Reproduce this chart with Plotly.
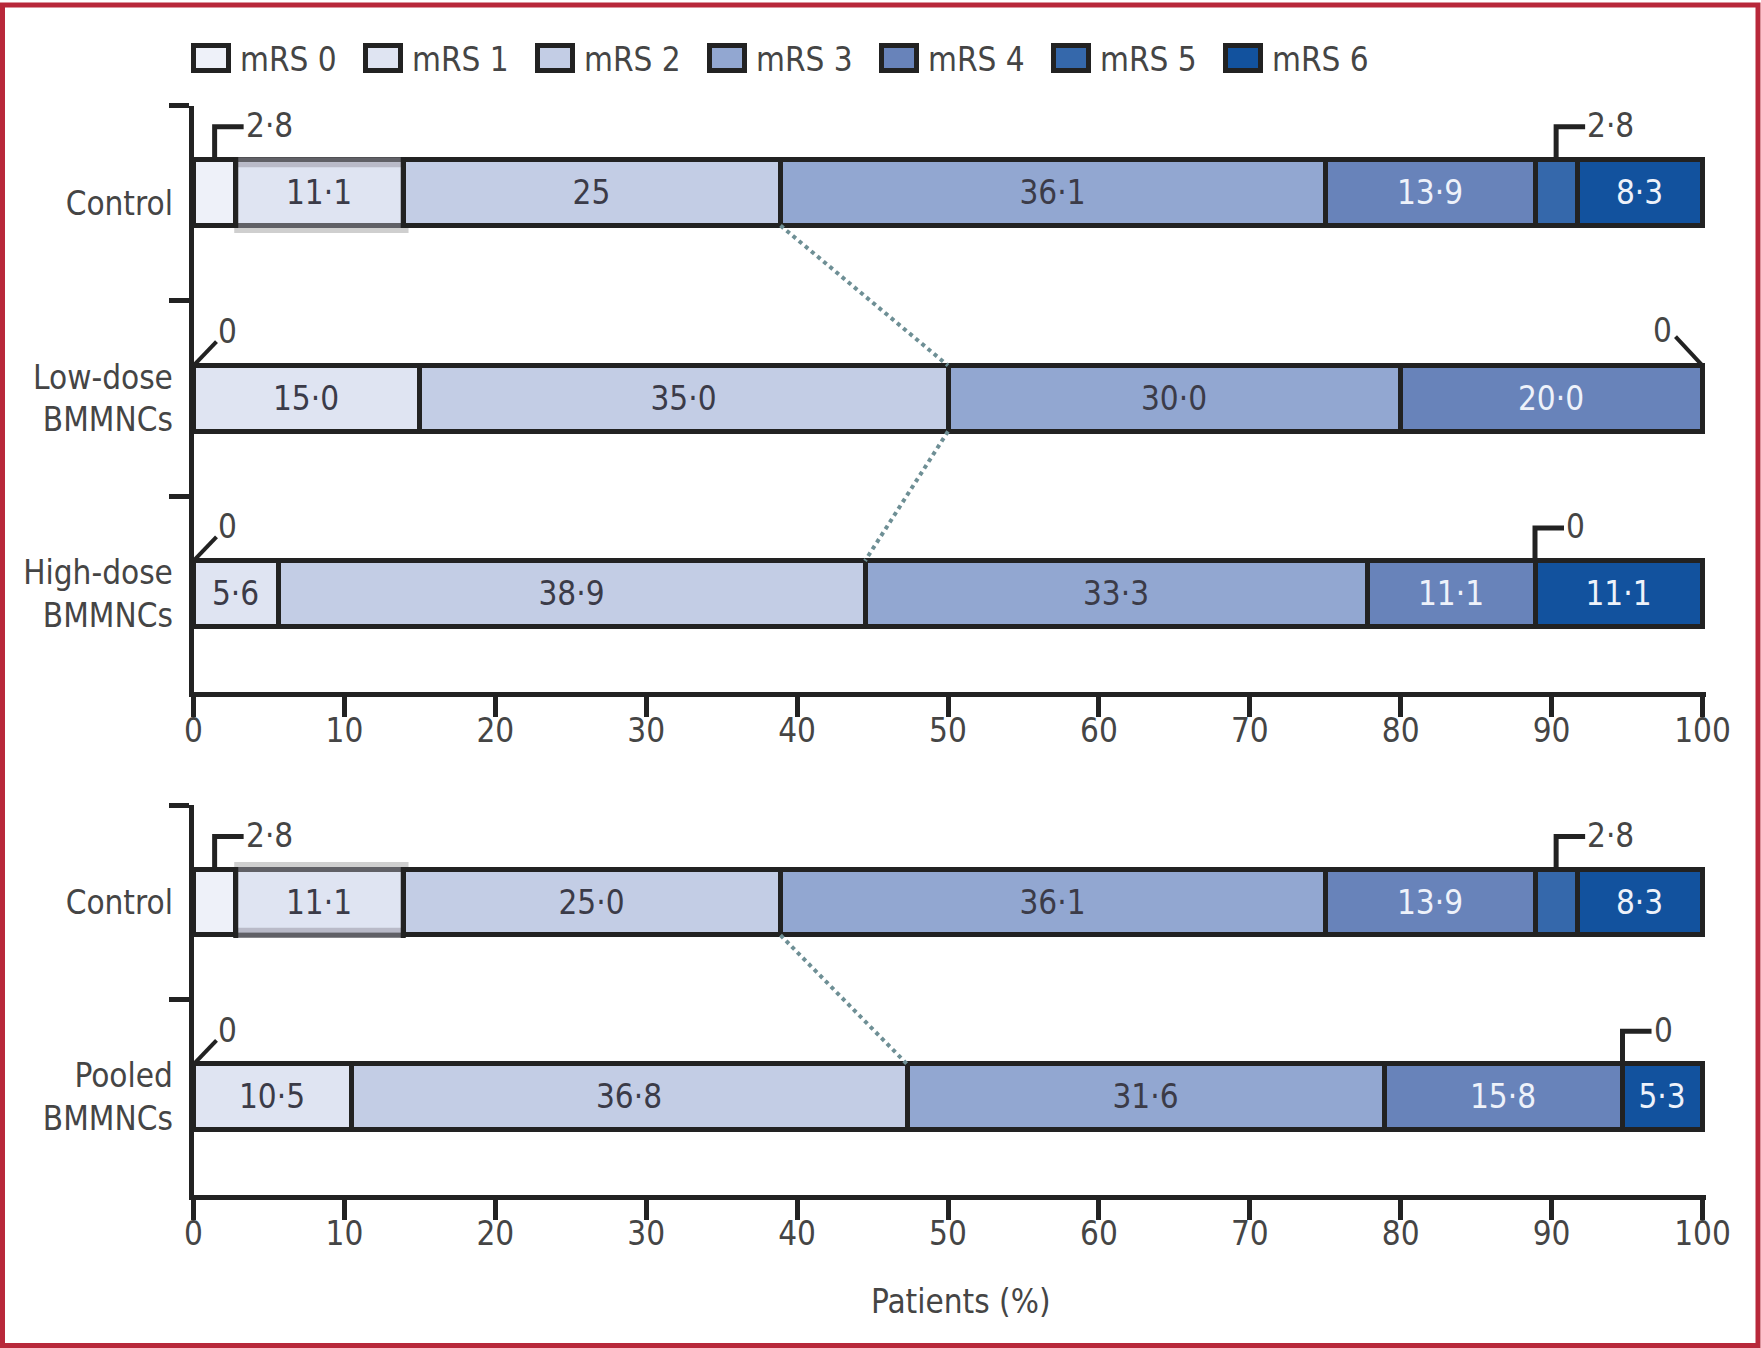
import plotly.graph_objects as go

W, H = 1761, 1348

# ---------------- data ----------------
levels = ["mRS 0", "mRS 1", "mRS 2", "mRS 3", "mRS 4", "mRS 5", "mRS 6"]
colors = ["#eef1f9", "#dfe4f2", "#c3cde5", "#92a7d1", "#6883ba", "#3568ab", "#12529e"]
label_colors = ["#3b3b48", "#3b3b48", "#3b3b48", "#3b3b48", "#eef2fa", "#eef2fa", "#eef2fa"]

top_groups = ["Control", "Low-dose<br>BMMNCs", "High-dose<br>BMMNCs"]
bottom_groups = ["Control", "Pooled<br>BMMNCs"]

control = [2.8, 11.1, 25.0, 36.1, 13.9, 2.8, 8.3]
low_dose = [0.0, 15.0, 35.0, 30.0, 20.0, 0.0, 0.0]
high_dose = [0.0, 5.6, 38.9, 33.3, 11.1, 0.0, 11.1]
pooled = [0.0, 10.5, 36.8, 31.6, 15.8, 0.0, 5.3]

top_values = [control, low_dose, high_dose]
bottom_values = [control, pooled]

x_ticks = [0, 10, 20, 30, 40, 50, 60, 70, 80, 90, 100]
x_title = "Patients (%)"

# callouts: (group index, mRS index, kind)
top_callouts = [(0, 0, "bracket"), (0, 5, "bracket"), (1, 0, "left"), (1, 6, "right"),
                (2, 0, "left"), (2, 5, "bracket")]
bottom_callouts = [(0, 0, "bracket"), (0, 5, "bracket"), (1, 0, "left"), (1, 5, "bracket")]


def fmt(v):
    if v == 0:
        return "0"
    return f"{v:.1f}".replace(".", "·")


def seg_labels(vals):
    return [fmt(v) if v >= 5 else "" for v in vals]


top_labels = [seg_labels(v) for v in top_values]
top_labels[0][2] = "25"   # printed without decimal in the top panel
bottom_labels = [seg_labels(v) for v in bottom_values]

# ---------------- style ----------------
INK = "#222222"
TXT = "#454545"
FONT = "DejaVu Sans Condensed, DejaVu Sans, sans-serif"
FS = 33
BW = 0.337   # bar thickness in category units
LW = 5
TOP_SHIFT = [-0.054, 0.0, 0.0]   # small vertical nudges of bars within their band
BOT_SHIFT = [0.0, 0.0]


def px(x):
    return x / W


def py(y):
    return 1 - y / H


XR = [0, 100.25]
xdom = [px(193.5), px(193.5 + 100.25 * 15.09)]
ydom_top = [py(691.5), py(105.5)]
ydom_bot = [py(1194.5), py(805)]

fig = go.Figure()


def add_panel(groups, values, labels, shifts, xa, ya):
    for k, lev in enumerate(levels):
        fig.add_trace(go.Bar(
            y=groups,
            x=[vals[k] for vals in values],
            orientation="h",
            name=lev,
            width=BW,
            offset=[s - BW / 2 for s in shifts],
            marker=dict(color=colors[k], line=dict(color=INK, width=LW)),
            text=[lab[k] for lab in labels],
            textposition="inside",
            insidetextanchor="middle",
            textangle=0,
            insidetextfont=dict(family=FONT, size=FS, color=label_colors[k]),
            constraintext="none",
            cliponaxis=False,
            showlegend=False,
            hoverinfo="skip",
            xaxis=xa, yaxis=ya,
        ))


add_panel(top_groups, top_values, top_labels, TOP_SHIFT, "x", "y")
add_panel(bottom_groups, bottom_values, bottom_labels, BOT_SHIFT, "x2", "y2")

shapes = []
annotations = []


def cum_before(vals, k):
    return sum(vals[:k])


def top_edge(gi, shifts):
    return gi + shifts[gi] - BW / 2


def bot_edge(gi, shifts):
    return gi + shifts[gi] + BW / 2


# grey printing artefact around the control group's mRS 1 segment
def add_artefact(vals, shifts, xr, yr, flip):
    a = cum_before(vals, 1)
    b = cum_before(vals, 2)
    top = top_edge(0, shifts)
    bot = bot_edge(0, shifts)
    dark, inner, outer = "#606066", "#b9bac8", "#cfcfcf"
    for anchor in (top, bot):
        shapes.append(dict(type="rect", xref=xr, yref=yr, ysizemode="pixel", yanchor=anchor,
                           x0=a, x1=b, y0=-2.5, y1=2.5, fillcolor=dark, line=dict(width=0)))
    if not flip:
        shapes.append(dict(type="rect", xref=xr, yref=yr, ysizemode="pixel", yanchor=top,
                           x0=a, x1=b, y0=-2.5, y1=-7.5, fillcolor=inner, line=dict(width=0)))
        shapes.append(dict(type="rect", xref=xr, yref=yr, ysizemode="pixel", yanchor=bot,
                           x0=a - 0.1, x1=b + 0.35, y0=-2.5, y1=-7.5, fillcolor=outer,
                           line=dict(width=0)))
    else:
        shapes.append(dict(type="rect", xref=xr, yref=yr, ysizemode="pixel", yanchor=bot,
                           x0=a, x1=b, y0=2.5, y1=7.5, fillcolor=inner, line=dict(width=0)))
        shapes.append(dict(type="rect", xref=xr, yref=yr, ysizemode="pixel", yanchor=top,
                           x0=a - 0.1, x1=b + 0.35, y0=2.5, y1=7.5, fillcolor=outer,
                           line=dict(width=0)))
    mid = (top + bot) / 2
    for xv in (a, b):
        shapes.append(dict(type="line", xref=xr, yref=yr, ysizemode="pixel", yanchor=mid,
                           x0=xv, x1=xv, y0=-35.5, y1=35.5, line=dict(color=INK, width=LW)))


add_artefact(control, TOP_SHIFT, "x", "y", False)
add_artefact(control, BOT_SHIFT, "x2", "y2", True)


def add_callouts(values, shifts, callouts, xr, yr):
    for gi, k, kind in callouts:
        vals = values[gi]
        v = vals[k]
        start = cum_before(vals, k)
        top = top_edge(gi, shifts)
        txt = fmt(v)
        if kind == "bracket":
            xc = start + v / 2
            bh, bl = 33, 29
            shapes.append(dict(type="path", xref=xr, yref=yr, xsizemode="pixel", ysizemode="pixel",
                               xanchor=xc, yanchor=top,
                               path=f"M0,0 L0,{bh} L{bl},{bh}",
                               line=dict(color=INK, width=LW)))
            annotations.append(dict(x=xc, y=top, xref=xr, yref=yr, text=txt, showarrow=False,
                                    xanchor="left", yanchor="middle", xshift=bl, yshift=bh + 1,
                                    font=dict(family=FONT, size=FS, color=TXT)))
        elif kind == "left":
            shapes.append(dict(type="line", xref=xr, yref=yr, xsizemode="pixel", ysizemode="pixel",
                               xanchor=start, yanchor=top, x0=0, x1=23, y0=0, y1=24,
                               line=dict(color=INK, width=4)))
            annotations.append(dict(x=start, y=top, xref=xr, yref=yr, text=txt, showarrow=False,
                                    xanchor="center", yanchor="middle", xshift=34, yshift=34,
                                    font=dict(family=FONT, size=FS, color=TXT)))
        else:
            xe = start + v
            shapes.append(dict(type="line", xref=xr, yref=yr, xsizemode="pixel", ysizemode="pixel",
                               xanchor=xe, yanchor=top, x0=0, x1=-27, y0=0, y1=29,
                               line=dict(color=INK, width=4)))
            annotations.append(dict(x=xe, y=top, xref=xr, yref=yr, text=txt, showarrow=False,
                                    xanchor="center", yanchor="middle", xshift=-40, yshift=35,
                                    font=dict(family=FONT, size=FS, color=TXT)))


add_callouts(top_values, TOP_SHIFT, top_callouts, "x", "y")
add_callouts(bottom_values, BOT_SHIFT, bottom_callouts, "x2", "y2")


def add_connectors(values, shifts, xr, yr):
    for gi in range(len(values) - 1):
        a = sum(values[gi][:3])
        b = sum(values[gi + 1][:3])
        shapes.append(dict(type="line", xref=xr, yref=yr, x0=a, y0=bot_edge(gi, shifts),
                           x1=b, y1=top_edge(gi + 1, shifts),
                           line=dict(color="#6e8f95", width=4, dash="dot")))


add_connectors(top_values, TOP_SHIFT, "x", "y")
add_connectors(bottom_values, BOT_SHIFT, "x2", "y2")

# legend (drawn manually to match the large swatches)
for k, lev in enumerate(levels):
    x0 = 193.5 + 172 * k
    shapes.append(dict(type="rect", xref="paper", yref="paper",
                       x0=px(x0), x1=px(x0 + 35), y0=py(45.5), y1=py(70.5),
                       fillcolor=colors[k], line=dict(color=INK, width=LW)))
    annotations.append(dict(x=px(x0 + 44), y=py(59), xref="paper", yref="paper", text=lev,
                            showarrow=False, xanchor="left", yanchor="middle",
                            font=dict(family=FONT, size=FS, color=TXT)))

annotations.append(dict(x=px(961), y=py(1301), xref="paper", yref="paper", text=x_title,
                        showarrow=False, xanchor="center", yanchor="middle",
                        font=dict(family=FONT, size=FS, color=TXT)))

# red frame
shapes.append(dict(type="rect", xref="paper", yref="paper", x0=px(2.5), x1=px(W - 3),
                   y0=py(H - 2.5), y1=py(5), line=dict(color="#b8283a", width=5),
                   fillcolor="rgba(0,0,0,0)"))

xaxis_common = dict(range=XR, tickmode="array", tickvals=x_ticks, ticks="outside", ticklen=20,
                    tickwidth=LW, tickcolor=INK, showline=True, linewidth=LW, linecolor=INK,
                    showgrid=False, zeroline=False, ticklabelstandoff=-14, automargin=False,
                    tickfont=dict(family=FONT, size=FS, color=TXT), fixedrange=True)
yaxis_common = dict(type="category", tickson="boundaries", ticks="outside", ticklen=20,
                    tickwidth=LW, tickcolor=INK, showline=True, linewidth=LW, linecolor=INK,
                    showgrid=False, zeroline=False, ticklabelstandoff=9, automargin=False,
                    tickfont=dict(family=FONT, size=FS, color=TXT), fixedrange=True)

fig.update_layout(
    width=W, height=H, autosize=False,
    margin=dict(l=0, r=0, t=0, b=0, pad=0, autoexpand=False),
    paper_bgcolor="white", plot_bgcolor="white",
    barmode="stack",
    bargap=0,
    uniformtext=dict(minsize=FS, mode="show"),
    font=dict(family=FONT, size=FS, color=TXT),
    xaxis=dict(domain=xdom, anchor="y", **xaxis_common),
    yaxis=dict(domain=ydom_top, anchor="x", categoryorder="array", categoryarray=top_groups,
               range=[len(top_groups) - 0.5, -0.5], **yaxis_common),
    xaxis2=dict(domain=xdom, anchor="y2", **xaxis_common),
    yaxis2=dict(domain=ydom_bot, anchor="x2", categoryorder="array", categoryarray=bottom_groups,
                range=[len(bottom_groups) - 0.5, -0.5], **yaxis_common),
    shapes=shapes,
    annotations=annotations,
    showlegend=False,
)

fig.write_html("out.html",
               config={"responsive": False, "displayModeBar": False},
               post_script="document.body.style.margin='0px';document.body.style.overflow='hidden';")
